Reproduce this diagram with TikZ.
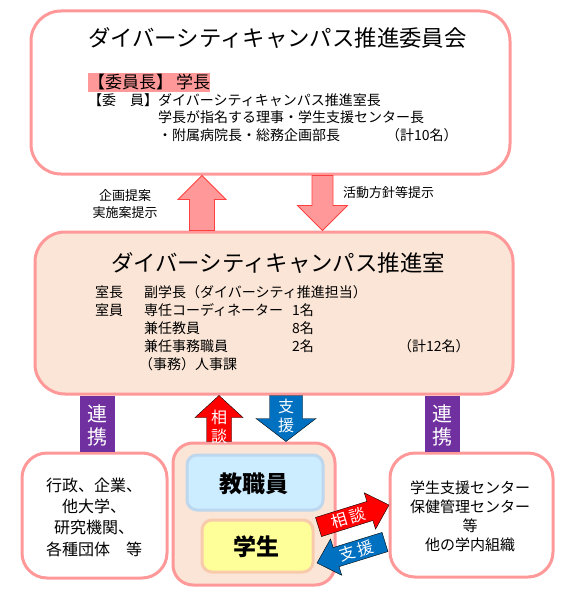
\documentclass[tikz,border=0pt]{standalone}
\usepackage{fontspec}
\setmainfont{Noto Sans CJK JP}
\usetikzlibrary{calc}

\definecolor{pinkline}{HTML}{FF9999}
\definecolor{peach}{HTML}{FBE5D6}
\definecolor{arrowedge}{HTML}{FF4040}
\definecolor{linkpurple}{HTML}{7030A0}
\definecolor{helpblue}{HTML}{0070C0}
\definecolor{staffblue}{HTML}{CCECFF}
\definecolor{staffedge}{HTML}{BDD7EE}
\definecolor{studentyellow}{HTML}{FFFF99}
\definecolor{studentedge}{HTML}{F8CBAD}

% block arrow: [style]{tail}{tip}{shaft half width}{head half width}{head length}
\newcommand{\fatarrow}[6][]{%
  \coordinate (fa-s) at (#2);
  \coordinate (fa-t) at (#3);
  \coordinate (fa-h) at ($(fa-t)!#6!(fa-s)$);
  \filldraw[#1] ($(fa-s)!#4!90:(fa-t)$) -- ($(fa-h)!#4!90:(fa-t)$)
    -- ($(fa-h)!#5!90:(fa-t)$) -- (fa-t) -- ($(fa-h)!#5!-90:(fa-t)$)
    -- ($(fa-h)!#4!-90:(fa-t)$) -- ($(fa-s)!#4!-90:(fa-t)$) -- cycle;
}

\tikzset{
  box/.style={draw=pinkline, line width=3pt, rounded corners=30pt, inner sep=0pt},
  boxtitle/.style={font=\fontsize{22.4}{26}\selectfont, inner sep=0pt},
  bodytext/.style={font=\fontsize{14}{17}\selectfont, anchor=west, inner sep=0pt},
  arrownote/.style={font=\fontsize{13}{17}\selectfont, align=center, inner sep=0pt},
  bigarrow/.style={fill=pinkline, draw=arrowedge, line width=0.8pt},
  onarrow/.style={text=white, font=\fontsize{16}{19}\selectfont, align=center, inner sep=0pt},
  linktext/.style={text=white, font=\fontsize{20}{23}\selectfont, align=center, inner sep=0pt},
}

\begin{document}
\begin{tikzpicture}[x=1pt, y=-1pt]
\useasboundingbox (0,0) rectangle (576,602);

% committee
\node[box, fill=white, minimum width=479, minimum height=163] (committee) at (270.5, 92.5) {};
\node[boxtitle] (committeetitle) at (277.5, 38) {ダイバーシティキャンパス推進委員会};
\node[bodytext, fill=pinkline, font=\fontsize{17}{19}\selectfont, minimum height=19] (chair) at (88, 82) {【委員長】\,学長};
\node[bodytext] (memberhead) at (88, 100) {【委　員】};
\node[bodytext] (member1) at (158, 100) {ダイバーシティキャンパス推進室長};
\node[bodytext] (member2) at (158, 117) {学長が指名する理事・学生支援センター長};
\node[bodytext] (member3) at (158, 135) {・附属病院長・総務企画部長};
\node[bodytext] (membertotal) at (386, 135) {（計10名）};

% office
\node[box, fill=peach, minimum width=478, minimum height=162] (office) at (274, 313) {};
\node[boxtitle] (officetitle) at (278, 263) {ダイバーシティキャンパス推進室};
\node[bodytext] (headlabel) at (95, 292) {室長};
\node[bodytext] (head) at (144, 292) {副学長（ダイバーシティ推進担当）};
\node[bodytext] (stafflabel) at (95, 310) {室員};
\node[bodytext] (staff1) at (144, 310) {専任コーディネーター};
\node[bodytext] (staff1n) at (292, 310) {1名};
\node[bodytext] (staff2) at (144, 328) {兼任教員};
\node[bodytext] (staff2n) at (292, 328) {8名};
\node[bodytext] (staff3) at (144, 346) {兼任事務職員};
\node[bodytext] (staff3n) at (292, 346) {2名};
\node[bodytext] (stafftotal) at (398, 346) {（計12名）};
\node[bodytext] (secretariat) at (139, 364) {（事務）人事課};

% bottom row
\node[box, fill=white, rounded corners=25pt, minimum width=145, minimum height=125] (partners) at (94.5, 515.5) {};
\node[font=\fontsize{16}{21.3}\selectfont, align=center, inner sep=0pt] (partnerstext) at (94, 517)
  {行政、企業、\\他大学、\\研究機関、\\各種団体　等};
\node[box, fill=white, rounded corners=25pt, minimum width=163, minimum height=124] (centers) at (471.5, 515) {};
\node[font=\fontsize{15}{19}\selectfont, align=center, inner sep=0pt] (centerstext) at (470, 516.5)
  {学生支援センター\\保健管理センター\\等\\他の学内組織};
\node[box, fill=peach, rounded corners=20pt, minimum width=162, minimum height=142] (members) at (254, 514) {};
\node[box, draw=staffedge, fill=staffblue, rounded corners=10pt, minimum width=136, minimum height=55] (staff) at (255, 482.5) {};
\node[font=\fontsize{23}{26}\selectfont\bfseries, inner sep=0pt] (stafftext) at (254, 484) {教職員};
\node[box, draw=studentedge, fill=studentyellow, rounded corners=10pt, minimum width=111, minimum height=52] (students) at (257.5, 546) {};
\node[font=\fontsize{23}{26}\selectfont\bfseries, inner sep=0pt] (studentstext) at (256, 547) {学生};

% committee <-> office
\fatarrow[bigarrow]{$(office.north)+(-72,0)$}{$(committee.south)+(-68.5,0)$}{12.5pt}{24pt}{24pt}
\fatarrow[bigarrow]{$(committee.south)+(52,0)$}{$(office.north)+(48.5,0)$}{10.5pt}{25pt}{25pt}
\node[arrownote] (proposal) at (125, 204.5) {企画提案\\実施案提示};
\node[arrownote, anchor=west] (policy) at (343, 193) {活動方針等提示};

% office <-> partners, centers
\fill[linkpurple] ($(office.south)+(-194,0)$) rectangle ($(partners.north)+(20.5,0)$);
\node[linktext] (linkleft) at (97.5, 425) {連\\携};
\fill[linkpurple] ($(office.south)+(151,0)$) rectangle ($(centers.north)+(-11.5,0)$);
\node[linktext] (linkright) at (442.5, 425) {連\\携};

% office <-> members
\fatarrow[fill=red]{$(members.north)+(-35,0)$}{$(office.south)+(-55,0)$}{12.5pt}{24pt}{22pt}
\node[onarrow] (consultup) at (219, 427) {相\\談};
\fatarrow[fill=helpblue]{$(office.south)+(12,0)$}{$(members.north)+(32,0)$}{16.5pt}{30pt}{23pt}
\node[onarrow] (supportdown) at (286, 416) {支\\援};

% members <-> centers
\fatarrow[fill=red]{$(members.east)+(-18,13)$}{$(centers.west)+(0.5,-10)$}{10pt}{19pt}{20pt}
\node[onarrow, rotate=17] (consultright) at (348, 518) {相\,談};
\fatarrow[fill=helpblue]{$(centers.west)+(-3.5,27)$}{$(members.east)+(-19.5,49)$}{10pt}{19pt}{20pt}
\node[onarrow, rotate=17] (supportleft) at (356, 551) {支\,援};
\end{tikzpicture}
\end{document}
